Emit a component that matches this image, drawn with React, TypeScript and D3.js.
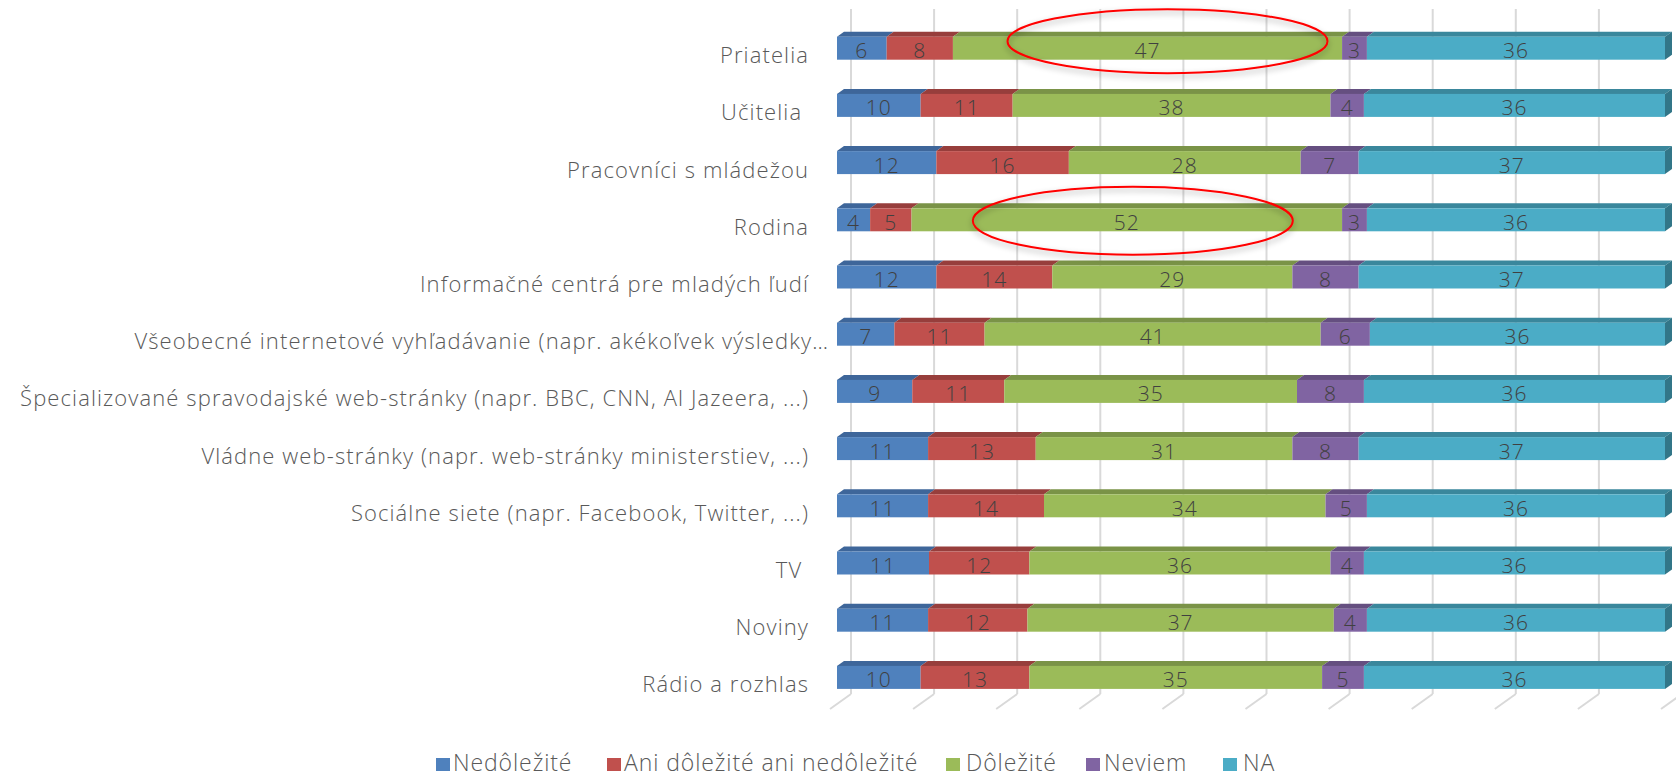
import React from "react";
import * as d3 from "d3";

const categories = [
  "Priatelia",
  "Učitelia ",
  "Pracovníci s mládežou",
  "Rodina",
  "Informačné centrá pre mladých ľudí",
  "Všeobecné internetové vyhľadávanie (napr. akékoľvek výsledky…",
  "Špecializované spravodajské web-stránky (napr. BBC, CNN, Al Jazeera, ...)",
  "Vládne web-stránky (napr. web-stránky ministerstiev, ...)",
  "Sociálne siete (napr. Facebook, Twitter, ...)",
  "TV ",
  "Noviny",
  "Rádio a rozhlas",
];

const seriesNames = ["Nedôležité", "Ani dôležité ani nedôležité", "Dôležité", "Neviem", "NA"];
const nedolezite = [6, 10, 12, 4, 12, 7, 9, 11, 11, 11, 11, 10];
const ani = [8, 11, 16, 5, 14, 11, 11, 13, 14, 12, 12, 13];
const dolezite = [47, 38, 28, 52, 29, 41, 35, 31, 34, 36, 37, 35];
const neviem = [3, 4, 7, 3, 8, 6, 8, 8, 5, 4, 4, 5];
const na = [36, 36, 37, 36, 37, 36, 36, 37, 36, 36, 36, 36];
const gridTicks = [0, 10, 20, 30, 40, 50, 60, 70, 80, 90, 100];
const highlighted = ["Priatelia", "Rodina"];

const seriesValues = [nedolezite, ani, dolezite, neviem, na];
const frontColors = ["#4F81BD", "#C0504D", "#9BBB59", "#8064A2", "#4BACC6"];
const topColors = ["#3E669A", "#973E3C", "#7A9347", "#654F80", "#3A879C"];
const sideColors = ["#35598A", "#853634", "#6C823E", "#584571", "#327688"];

const W = 1676;
const H = 777;
const FONT = "'Open Sans', Lato, sans-serif";

export default function App() {
  const x = d3.scaleLinear().domain([0, 100]).range([837, 1665]);
  const gx = d3.scaleLinear().domain([0, 100]).range([851, 1682]);
  const y = d3
    .scaleBand<string>()
    .domain(categories)
    .range([19.6, 706])
    .paddingInner(0.598)
    .paddingOuter(0.299);
  const bw = y.bandwidth();
  const dx = 7;
  const dy = 5;
  const floorDx = 21;
  const floorDy = 15;
  const wallTop = 9;
  const wallBottom = 694;

  const rows = categories.map((c, i) => {
    const vals = seriesValues.map((s) => s[i]);
    const sum = d3.sum(vals);
    let cum = 0;
    const segs = vals.map((v, k) => {
      const x0 = x((cum / sum) * 100);
      cum += v;
      const x1 = x((cum / sum) * 100);
      return { k, v, x0, x1 };
    });
    return { c, segs, top: y(c) as number };
  });

  const legendItems = [
    { sq: 436, tx: 453 },
    { sq: 607, tx: 624 },
    { sq: 946, tx: 966 },
    { sq: 1086, tx: 1104 },
    { sq: 1223, tx: 1243 },
  ];

  return (
    <svg
      width={W}
      height={H}
      style={{ position: "absolute", left: 0, top: 0, background: "#fff" }}
      fontFamily={FONT}
    >
      <defs>
        <filter id="glow" x="-20%" y="-40%" width="140%" height="180%">
          <feGaussianBlur in="SourceAlpha" stdDeviation="3" result="b" />
          <feOffset dx="0" dy="3" result="o" />
          <feComponentTransfer>
            <feFuncA type="linear" slope="0.35" />
          </feComponentTransfer>
          <feMerge>
            <feMergeNode />
            <feMergeNode in="SourceGraphic" />
          </feMerge>
        </filter>
      </defs>
      <rect width={W} height={H} fill="#fff" />
      {gridTicks.map((t) => (
        <g key={t} stroke="#D9D9D9" strokeWidth={2} fill="none">
          <line x1={gx(t)} x2={gx(t)} y1={wallTop} y2={wallBottom} />
          <line x1={gx(t)} y1={wallBottom} x2={gx(t) - floorDx} y2={wallBottom + floorDy} />
        </g>
      ))}
      {rows.map((r) => (
        <g key={r.c}>
          {r.segs.map((s) => (
            <g key={s.k}>
              <polygon
                points={`${s.x0},${r.top} ${s.x0 + dx},${r.top - dy} ${s.x1 + dx},${r.top - dy} ${s.x1},${r.top}`}
                fill={topColors[s.k]}
              />
              <rect x={s.x0} y={r.top} width={s.x1 - s.x0} height={bw} fill={frontColors[s.k]} />
            </g>
          ))}
          {(() => {
            const s = r.segs[r.segs.length - 1];
            return (
              <polygon
                points={`${s.x1},${r.top} ${s.x1 + dx},${r.top - dy} ${s.x1 + dx},${r.top - dy + bw} ${s.x1},${r.top + bw}`}
                fill={sideColors[s.k]}
              />
            );
          })()}
          {r.segs.map((s) => (
            <text
              key={"l" + s.k}
              x={(s.x0 + s.x1) / 2}
              y={r.top + bw / 2 + 10}
              textAnchor="middle"
              fontSize={21}
              letterSpacing={1}
              fill="#404040"
              fontWeight={300}
            >
              {s.v}
            </text>
          ))}
          <text
            x={r.c.endsWith("…") ? 829 : 809}
            y={r.top + bw / 2 + 15}
            textAnchor="end"
            fontSize={22}
            letterSpacing={1.1}
            fill="#595959"
            fontWeight={300}
            style={{ whiteSpace: "pre" }}
          >
            {r.c}
          </text>
        </g>
      ))}
      {highlighted.map((c, i) => {
        const r = rows.find((rr) => rr.c === c)!;
        const g = r.segs[2];
        const cx = (g.x0 + g.x1) / 2 + (i === 0 ? 20 : 6);
        const cy = r.top + bw / 2 + (i === 0 ? -7 : 1);
        return (
          <ellipse
            key={c}
            cx={cx}
            cy={cy}
            rx={160}
            ry={i === 0 ? 32 : 34}
            fill="none"
            stroke="#FF0000"
            strokeWidth={2}
            filter="url(#glow)"
          />
        );
      })}
      {seriesNames.map((n, k) => (
        <g key={n}>
          <rect x={legendItems[k].sq} y={758} width={14} height={13} fill={frontColors[k]} />
          <text
            x={legendItems[k].tx}
            y={771}
            fontSize={23}
            letterSpacing={0.9}
            fill="#595959"
            fontWeight={300}
          >
            {n}
          </text>
        </g>
      ))}
    </svg>
  );
}
